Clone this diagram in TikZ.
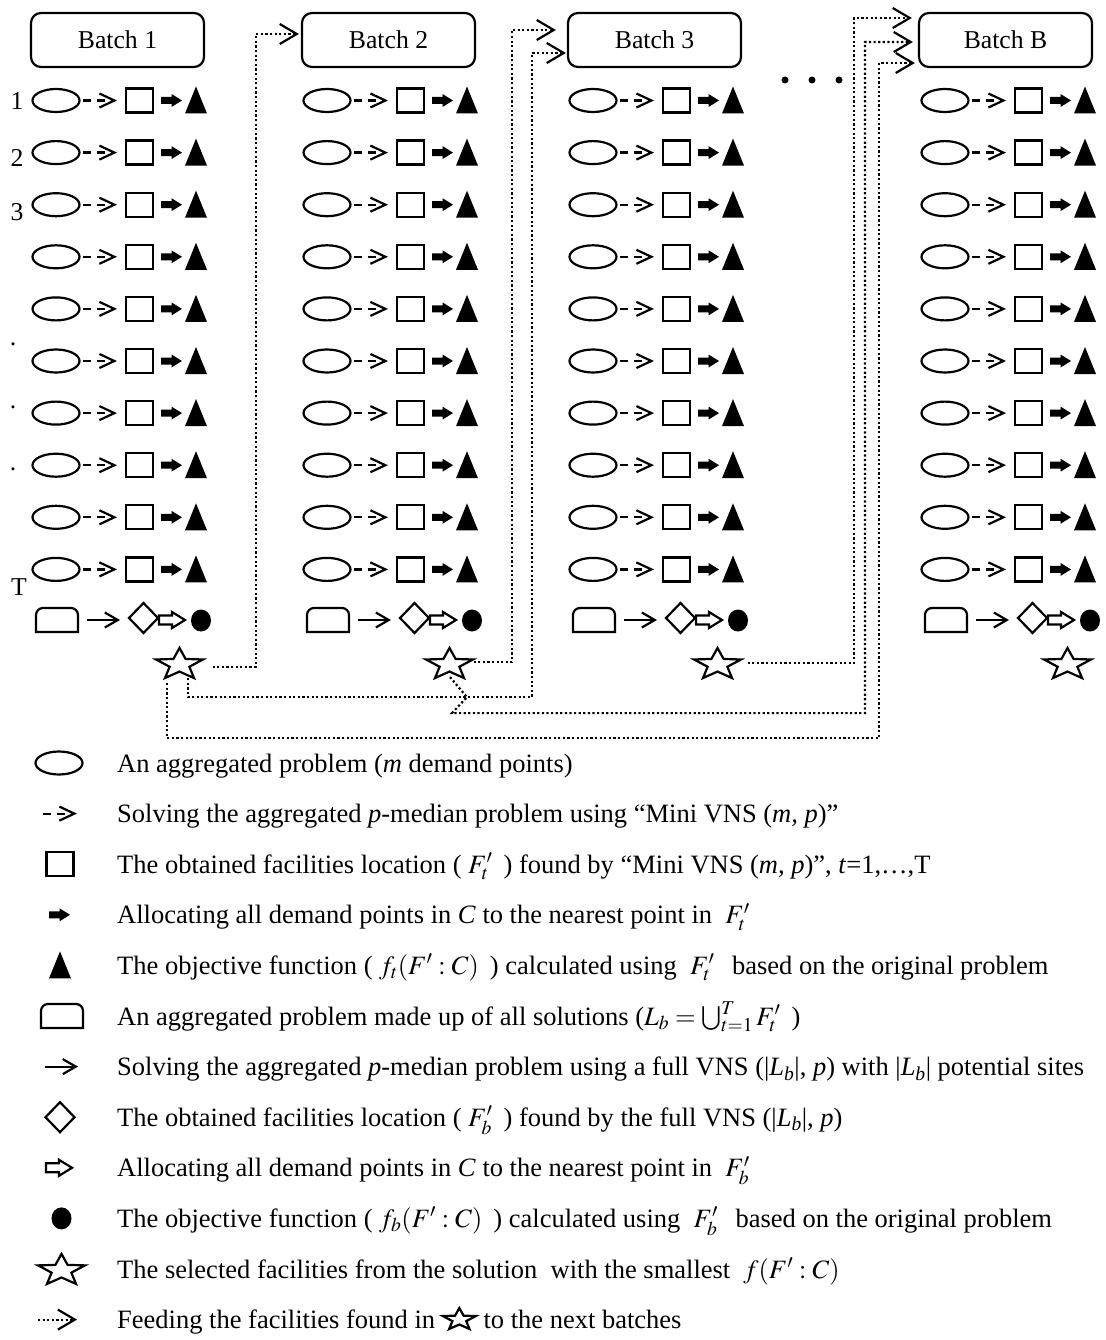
\documentclass[tikz,border=0pt]{standalone}
\usepackage{mathptmx}
\usepackage{fontspec}
\setmainfont{Liberation Serif}
\usetikzlibrary{arrows.meta,calc}
\newcommand{\bigfont}{\fontsize{25.7pt}{30pt}\selectfont}
\newcommand{\legfont}{\fontsize{26.5pt}{31pt}\selectfont}
\tikzset{
  sym/.style={line width=2.2pt, line join=miter},
  conn/.style={line width=2.2pt, dash pattern=on 2.2pt off 2.4pt,
    -{Straight Barb[length=17pt,width=20pt,line width=2.2pt]}},
  batch/.style={draw, line width=2.2pt, rounded corners=10pt, minimum width=173pt,
    minimum height=54pt, inner sep=0pt, font=\bigfont},
  txt/.style={inner sep=0pt, anchor=base west, font=\legfont},
  lab/.style={inner sep=0pt, anchor=base, font=\bigfont},
  starnode/.style={inner sep=0pt, minimum width=47pt, minimum height=30pt},
  pics/ellsym/.style={code={\draw[sym] (0,0) ellipse [x radius=23.5, y radius=11.5];}},
  pics/dasharrow/.style={code={\draw[sym, dash pattern=on 8pt off 6pt,
      -{Straight Barb[length=15pt,width=14pt,line width=2.2pt]}] (-17,0) -- (17,0);}},
  pics/sqsym/.style={code={\draw[sym] (-13.5,-12) rectangle (13.5,12);}},
  pics/blkarrow/.style={code={\fill (-10.5,-3.5) -- (0,-3.5) -- (0,-6.5) -- (10.5,0)
      -- (0,6.5) -- (0,3.5) -- (-10.5,3.5) -- cycle;}},
  pics/trisym/.style={code={\fill (-11,13) -- (0,-14) -- (11,13) -- cycle;}},
  pics/rrsym/.style={code={\draw[sym] (-21,12) -- (-21,-5)
      arc[start angle=180,end angle=270,radius=7] -- (14,-12)
      arc[start angle=270,end angle=360,radius=7] -- (21,12) -- cycle;}},
  pics/solarrow/.style={code={\draw[sym,
      -{Straight Barb[length=13pt,width=15pt,line width=2.2pt]}] (-16.5,0) -- (16.5,0);}},
  pics/diasym/.style={code={\draw[sym] (-14.5,0) -- (0,-15) -- (14.5,0) -- (0,15) -- cycle;}},
  pics/outarrow/.style={code={\draw[sym] (-13,-4.5) -- (0,-4.5) -- (0,-8) -- (13,0)
      -- (0,8) -- (0,4.5) -- (-13,4.5) -- cycle;}},
  pics/dotsym/.style={code={\fill (0,0) ellipse [x radius=10, y radius=11];}},
  pics/starsym/.style 2 args={code={
      \draw[sym] ({#1*cos(-90)},{#2*sin(-90)})
        -- ({0.42*#1*cos(-54)},{0.42*#2*sin(-54)}) -- ({#1*cos(-18)},{#2*sin(-18)})
        -- ({0.42*#1*cos(18)},{0.42*#2*sin(18)}) -- ({#1*cos(54)},{#2*sin(54)})
        -- ({0.42*#1*cos(90)},{0.42*#2*sin(90)}) -- ({#1*cos(126)},{#2*sin(126)})
        -- ({0.42*#1*cos(162)},{0.42*#2*sin(162)}) -- ({#1*cos(198)},{#2*sin(198)})
        -- ({0.42*#1*cos(234)},{0.42*#2*sin(234)}) -- cycle;}},
  pics/mrow/.style={code={
      \pic at (25,0) {ellsym}; \pic at (69,0) {dasharrow}; \pic at (108.5,0) {sqsym};
      \pic at (140.5,0) {blkarrow}; \pic at (165,0) {trisym};}},
  pics/brow/.style={code={
      \pic at (26,0) {rrsym}; \pic at (72.5,0) {solarrow}; \pic at (112.5,-2) {diasym};
      \pic at (141,0) {outarrow}; \pic at (170,0.5) {dotsym};}},
}
\begin{document}
\begin{tikzpicture}[x=1pt,y=-1pt]
\useasboundingbox (0,0) rectangle (1105,1340);

% batch headers
\node[batch] (b1) at (117.5,40) {Batch 1};
\node[batch] (b2) at (388.5,40) {Batch 2};
\node[batch] (b3) at (654.5,40) {Batch 3};
\node[batch] (bB) at (1005.5,40) {Batch B};

% rows of symbols
\foreach \ox in {31,302,568,920} {
  \foreach \i in {0,...,9} { \pic at (\ox,{100.5+52.1*\i}) {mrow}; }
  \pic at (\ox,620) {brow};
}

% left labels
\node[lab] (n1) at (17,110) {1};
\node[lab] (n2) at (17,167) {2};
\node[lab] (n3) at (17,221) {3};
\node[lab] (d1) at (13,345) {.};
\node[lab] (d2) at (13,408) {.};
\node[lab] (d3) at (13,470) {.};
\node[lab] (nT) at (19,595) {T};

% ellipsis between batch 3 and batch B
\fill (785,80) circle [radius=3.5];
\fill (812,80) circle [radius=3.5];
\fill (839,80) circle [radius=3.5];

% stars
\node[starnode] (s1) at (179.5,664.6) {};
\node[starnode] (s2) at (449.5,664.6) {};
\node[starnode] (s3) at (717.5,664.6) {};
\node[starnode] (s4) at (1067.5,664.6) {};
\foreach \s in {s1,s2,s3,s4} { \pic at (\s.center) {starsym={24.7}{16.6}}; }

% feeding connectors
\draw[conn] ($(s1.center)+(33,2)$) -| ($(b2.west)+(-45,-6)$) -- ($(b2.west)+(-2,-6)$);
\draw[conn] ($(s2.center)+(24,-2.5)$) -| ($(b3.west)+(-55,-10)$) -- ($(b3.west)+(-11,-10)$);
\draw[conn] ($(s1.center)+(8.5,13.5)$) -- ++(0,19) -| ($(b3.west)+(-35,13)$) -- ($(b3.west)+(-1,13)$);
\draw[conn] ($(s2.center)+(0.5,12.5)$) -- ++(17,20) -- ++(-15,16) -| ($(bB.west)+(-53,2)$) -- ($(bB.west)+(-5,2)$);
\draw[conn] ($(s3.center)+(30,-1.5)$) -| ($(bB.west)+(-64,-22)$) -- ($(bB.west)+(-6,-22)$);
\draw[conn] ($(s1.center)+(-12.5,18.5)$) -- ++(0,55) -| ($(bB.west)+(-39,23)$) -- ($(bB.west)+(-3,23)$);

% legend symbols
\pic at (59,763) {ellsym};
\pic at (60,813.6) {dasharrow};
\pic at (60,864.2) {sqsym};
\pic at (59.5,914.8) {blkarrow};
\pic at (60,965.4) {trisym};
\pic at (62,1016) {rrsym};
\pic at (61.5,1066.6) {solarrow};
\pic at (60,1117.2) {diasym};
\pic at (59,1167.8) {outarrow};
\pic at (61.5,1218.4) {dotsym};
\node[starnode] (sl) at (61.5,1270.5) {};
\pic at (sl.center) {starsym={24.7}{16.6}};
\coordinate (da1) at (38,1319.6);
\coordinate (da2) at (77,1319.6);
\draw[conn] (da1) -- (da2);

% legend texts
\node[txt] (l1) at (117,772) {An aggregated problem (\textit{m} demand points)};
\node[txt] (l2) at (117,822.6) {Solving the aggregated \textit{p}-median problem using “Mini VNS (\textit{m, p})”};
\node[txt] (l3) at (117,873.2) {The obtained facilities location ( $F'_t$\, ) found by “Mini VNS (\textit{m, p})”, \textit{t}=1,…,T};
\node[txt] (l4) at (117,923.8) {Allocating all demand points in \textit{C} to the nearest point in ~$F'_t$};
\node[txt] (l5) at (117,974.4) {The objective function ( $f_t(F':C)$\, ) calculated using ~$F'_t$\,~ based on the original problem};
\node[txt] (l6) at (117,1025) {An aggregated problem made up of all solutions ($L_b = \bigcup_{t=1}^{T} F'_t$\, )};
\node[txt] (l7) at (117,1075.6) {Solving the aggregated \textit{p}-median problem using a full VNS (|\textit{L\textsubscript{b}}|, \textit{p}) with |\textit{L\textsubscript{b}}| potential sites};
\node[txt] (l8) at (117,1126.2) {The obtained facilities location ( $F'_b$\, ) found by the full VNS (|\textit{L\textsubscript{b}}|, \textit{p})};
\node[txt] (l9) at (117,1176.8) {Allocating all demand points in \textit{C} to the nearest point in ~$F'_b$};
\node[txt] (l10) at (117,1227.4) {The objective function ( $f_b(F':C)$\, ) calculated using ~$F'_b$\,~ based on the original problem};
\node[txt] (l11) at (117,1278) {The selected facilities from the solution ~with the smallest ~$f(F':C)$};
\node[txt] (l12) at (117,1328.6) {Feeding the facilities found in};
\node[inner sep=0pt, minimum width=33pt, minimum height=21pt] (ss) at ($(l12.base east)+(24,-9)$) {};
\pic at (ss.center) {starsym={17.3}{11.6}};
\node[txt] (l12b) at ($(l12.base east)+(48,0)$) {to the next batches};
\end{tikzpicture}
\end{document}
